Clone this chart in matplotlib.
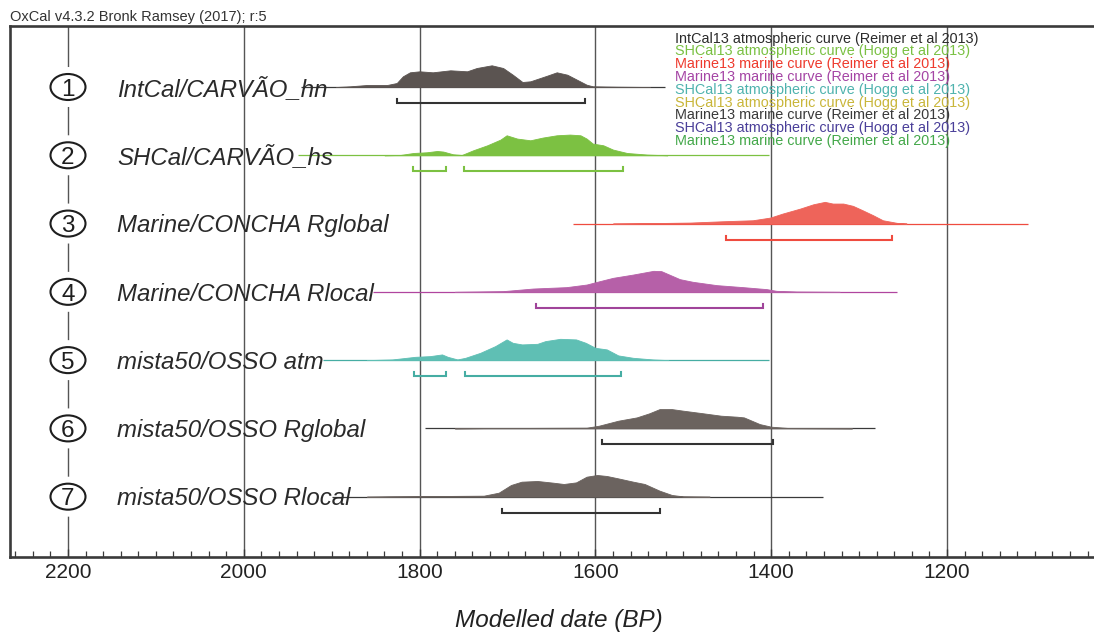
import matplotlib
matplotlib.use("Agg")
import matplotlib.pyplot as plt
from matplotlib.patches import Ellipse
from matplotlib.ticker import MultipleLocator

plt.rcParams['font.family'] = ['Liberation Sans', 'DejaVu Sans']

# ---------------- data ----------------
title = "OxCal v4.3.2 Bronk Ramsey (2017); r:5"
xlabel = "Modelled date (BP)"
major_ticks = [2200, 2000, 1800, 1600, 1400, 1200]
tick_labels = ["2200", "2000", "1800", "1600", "1400", "1200"]

labels = ["IntCal/CARVÃO_hn", "SHCal/CARVÃO_hs", "Marine/CONCHA Rglobal",
          "Marine/CONCHA Rlocal", "mista50/OSSO atm", "mista50/OSSO Rglobal",
          "mista50/OSSO Rlocal"]
numbers = ["1", "2", "3", "4", "5", "6", "7"]

# probability density outlines: years (BP) and relative heights
r1_years = [1895, 1879, 1860, 1837, 1826, 1819, 1811, 1800, 1785, 1765, 1746, 1735, 1718,
            1705, 1694, 1683, 1674, 1655, 1644, 1632, 1621, 1610, 1603, 1575, 1538]
r1_dens = [0, 0.7, 2, 2, 4, 10.7, 14.7, 15.7, 14.7, 16.7, 15.7, 19, 21.7,
           19, 12.3, 5, 5.7, 11.3, 14.7, 12.3, 7.3, 2.3, 0.7, 0.3, 0]

r2_years = [1840, 1822, 1807, 1792, 1780, 1773, 1762, 1752, 1739, 1723, 1708, 1701, 1689,
            1674, 1660, 1644, 1629, 1617, 1610, 1603, 1591, 1580, 1564, 1541, 1518]
r2_dens = [0, 0.3, 2.3, 3, 4.3, 3.7, 1, 0.3, 5, 10, 15.7, 20, 16.7,
           15, 17.7, 20, 20.7, 20, 16.7, 11.7, 10, 5.7, 2.3, 0.7, 0]

r3_years = [1580, 1546, 1492, 1455, 1421, 1401, 1387, 1367, 1352, 1339, 1330, 1318,
            1307, 1296, 1284, 1273, 1257, 1246]
r3_dens = [0, 0.3, 1, 2.3, 3.3, 6, 10, 15, 19.3, 21.7, 20, 20,
           17.7, 13.3, 8.3, 3.3, 0.7, 0]

r4_years = [1760, 1705, 1671, 1633, 1610, 1595, 1580, 1557, 1534, 1525, 1504, 1489,
            1462, 1432, 1405, 1394, 1371, 1322]
r4_dens = [0, 0.7, 3.3, 4.7, 7.3, 10.7, 14, 17.3, 21, 20.7, 12.7, 10,
           6.7, 4.7, 2.7, 1, 0.3, 0]

r5_years = [1860, 1831, 1805, 1788, 1774.5, 1768, 1757, 1748, 1731, 1714, 1701, 1694,
            1683.5, 1666, 1657, 1640, 1622, 1611, 1600, 1587, 1574, 1557, 1535, 1517]
r5_dens = [0, 0.7, 3.3, 4, 5.7, 3.3, 0.7, 2.3, 7.3, 14, 20.7, 17.3,
           15.7, 16.3, 19, 21.3, 20.7, 17.3, 12.3, 10.7, 4.7, 2.3, 0.7, 0]

r6_years = [1760, 1727, 1610, 1596, 1574, 1553, 1539, 1527, 1513, 1500, 1479, 1457,
            1439, 1431, 1413, 1400, 1379, 1308]
r6_dens = [0, 0.3, 0.7, 2.7, 7.7, 11, 15, 19.3, 19.3, 17.7, 15.3, 12.7,
           11.7, 11, 4.3, 1.7, 0.3, 0]

r7_years = [1860, 1834, 1727, 1710, 1696, 1684, 1666, 1648, 1636, 1622, 1610, 1598,
            1587, 1574, 1557, 1544, 1527, 1513, 1500, 1470]
r7_dens = [0, 0.3, 1, 4, 11.7, 15, 15.7, 14, 12.7, 14.3, 20, 21.7,
           20.7, 18.3, 15, 12.7, 6, 1.7, 0.3, 0]

# full extent of each distribution line (years BP)
line_extents = [(1935, 1521), (1938, 1402), (1625, 1108), (1853, 1257),
                (1910, 1402), (1794, 1282), (1900, 1341)]

# 95.4% ranges (years BP)
ranges = [[(1826, 1612)],
          [(1807, 1770), (1749.5, 1569)],
          [(1451, 1263)],
          [(1668, 1409)],
          [(1806.6, 1770), (1748.6, 1571)],
          [(1592, 1398)],
          [(1706, 1526.5)]]

legend_texts = ["IntCal13 atmospheric curve (Reimer et al 2013)",
                "SHCal13 atmospheric curve (Hogg et al 2013)",
                "Marine13 marine curve (Reimer et al 2013)",
                "Marine13 marine curve (Reimer et al 2013)",
                "SHCal13 atmospheric curve (Hogg et al 2013)",
                "SHCal13 atmospheric curve (Hogg et al 2013)",
                "Marine13 marine curve (Reimer et al 2013)",
                "SHCal13 atmospheric curve (Hogg et al 2013)",
                "Marine13 marine curve (Reimer et al 2013)"]

# ---------------- styles ----------------
legend_colors = ["#2b2b2b", "#7ac143", "#ee3b2e", "#a545a5", "#4fb3ae",
                 "#c9b63a", "#3a3a3a", "#4a3f99", "#44a84a"]
fill_colors = ["#5b5451", "#7cc142", "#ee645a", "#b660a8", "#5fbfb4", "#6b635f", "#6b635f"]
line_colors = ["#3a3a3a", "#7cc142", "#ef4b3f", "#b0459f", "#46ada3", "#3a3a3a", "#3a3a3a"]
bar_colors = ["#333333", "#7cc142", "#ef4b3f", "#a0449a", "#46ada3", "#333333", "#333333"]

all_years = [r1_years, r2_years, r3_years, r4_years, r5_years, r6_years, r7_years]
all_dens = [r1_dens, r2_dens, r3_dens, r4_dens, r5_dens, r6_dens, r7_dens]

W, H = 1094, 635
ROW_PX = 68.28          # pixels between rows
PX_PER_YEAR = 0.879
YR_PER_PX = 1 / PX_PER_YEAR

fig = plt.figure(figsize=(W / 100, H / 100), dpi=100)
ax_left, ax_right = 10, 1094
ax_top, ax_bot = 25.5, 557.3
ax = fig.add_axes([ax_left / W, (H - ax_bot) / H, (ax_right - ax_left) / W, (ax_bot - ax_top) / H])
ax.set_xlim(2200 + (68 - ax_left) * YR_PER_PX, 2200 - (ax_right - 68) * YR_PER_PX)
ax.set_ylim((ax_bot - 87) / ROW_PX, (ax_top - 87) / ROW_PX)

spine_col = "#3a3a3a"
for s in ["left", "top", "bottom"]:
    ax.spines[s].set_linewidth(1.9)
    ax.spines[s].set_color(spine_col)
ax.spines["right"].set_visible(False)

ax.set_xticks(major_ticks)
ax.set_xticklabels(tick_labels, fontsize=15, color="#222222")
ax.xaxis.set_minor_locator(MultipleLocator(20))
ax.tick_params(axis="x", which="major", direction="in", length=6, width=1.0,
               color=spine_col, pad=4)
ax.tick_params(axis="x", which="minor", direction="in", length=4, width=0.9,
               color=spine_col)
ax.set_yticks([])

for t in major_ticks:
    ax.axvline(t, color="#555555", lw=1.0, zorder=1)

scale = 1 / ROW_PX
bar_off = 16 / ROW_PX
tick_h = 4 / ROW_PX
for r in range(7):
    y0 = r
    x0, x1 = line_extents[r]
    ax.plot([x0, x1], [y0, y0], color=line_colors[r], lw=0.9, zorder=2,
            solid_capstyle="butt")
    ys = [y0 - d * scale for d in all_dens[r]]
    ax.fill_between(all_years[r], y0, ys, color=fill_colors[r], lw=0.6,
                    edgecolor=fill_colors[r], zorder=2.5)
    for a, b in ranges[r]:
        yb = y0 + bar_off
        ax.plot([a, a, b, b], [yb - tick_h, yb, yb, yb - tick_h],
                color=bar_colors[r], lw=1.5, zorder=2.5, solid_joinstyle="miter")
    # label
    ax.text(2200 - 49 * YR_PER_PX, y0 + 8.7 / ROW_PX, labels[r], fontsize=17.3,
            style="italic", color="#2a2a2a", ha="left", va="baseline", zorder=3)
    # circled number
    mask = Ellipse((2200, y0), width=38 * YR_PER_PX, height=40 / ROW_PX,
                   facecolor="white", edgecolor="none", zorder=3.5)
    ax.add_patch(mask)
    circ = Ellipse((2200, y0), width=35 * YR_PER_PX, height=26 / ROW_PX,
                   facecolor="white", edgecolor="#1e1e1e", lw=1.5, zorder=4)
    ax.add_patch(circ)
    ax.text(2200, y0 + 8.8 / ROW_PX, numbers[r], fontsize=17.5, color="#1e1e1e",
            ha="center", va="baseline", zorder=5)

# legend of calibration curves
leg_x = 2200 - (675 - 68) * YR_PER_PX
for i, (txt, col) in enumerate(zip(legend_texts, legend_colors)):
    ypx = 38.5 + 12.8 * i
    ax.text(leg_x, (ypx - 87) / ROW_PX, txt, fontsize=10.4, color=col,
            ha="left", va="center", zorder=3)

fig.text(10 / W, 1 - 17 / H, title, fontsize=10.5, color="#333333", ha="left", va="center")
fig.text(559 / W, 1 - 621 / H, xlabel, fontsize=17.5, style="italic", color="#222222",
         ha="center", va="center")

fig.savefig("out.png", dpi=100, facecolor="white")
